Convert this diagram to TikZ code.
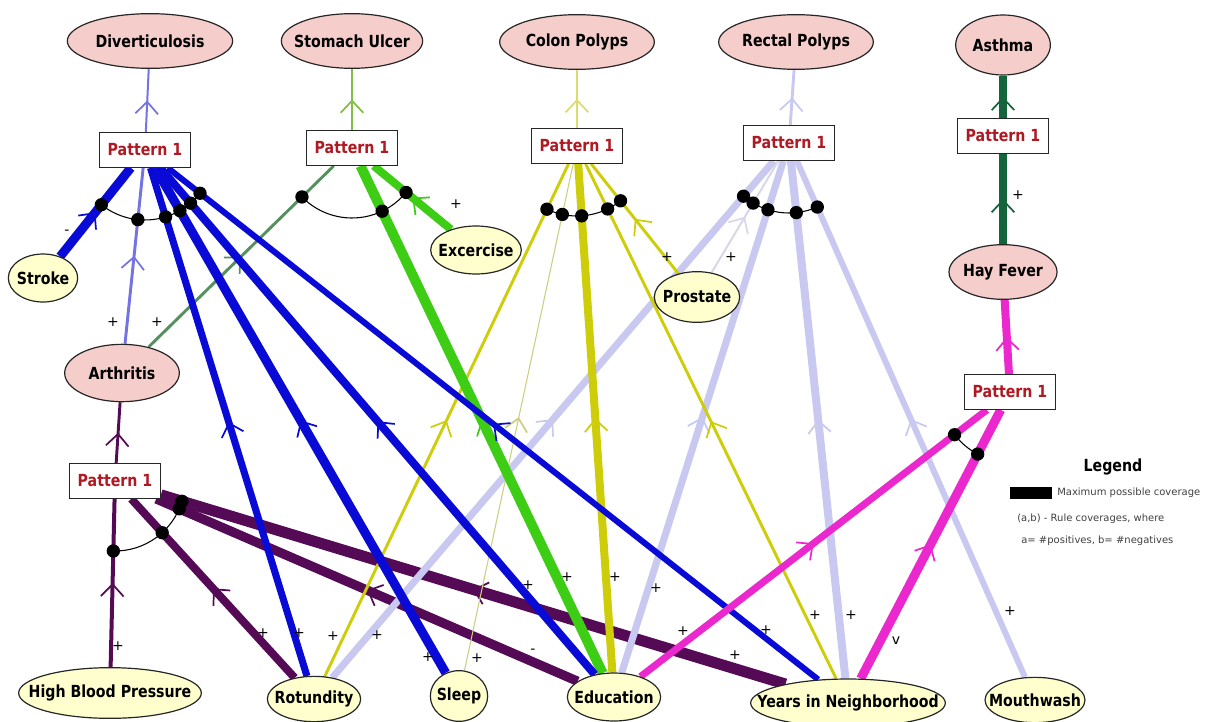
\documentclass[tikz,border=0pt]{standalone}
\usepackage{fontspec}
\setmainfont{DejaVu Sans}
\newfontfamily\nodefont[FakeStretch=0.85]{DejaVu Sans}
\usepackage{tikz}
\usetikzlibrary{shapes,arrows.meta,calc,decorations.markings}

\definecolor{divblue}{RGB}{10,10,215}
\definecolor{divlight}{RGB}{115,115,225}
\definecolor{ulcgreen}{RGB}{60,205,20}
\definecolor{ulcdull}{RGB}{85,145,95}
\definecolor{ulclight}{RGB}{130,190,70}
\definecolor{colyel}{RGB}{205,205,10}
\definecolor{colpale}{RGB}{205,205,130}
\definecolor{collight}{RGB}{220,220,110}
\definecolor{reclav}{RGB}{200,200,240}
\definecolor{recpale}{RGB}{215,215,232}
\definecolor{asthgreen}{RGB}{20,100,60}
\definecolor{hfmag}{RGB}{235,40,205}
\definecolor{arthpurp}{RGB}{85,10,85}
\definecolor{diseasefill}{RGB}{245,205,202}
\definecolor{factorfill}{RGB}{255,255,205}
\definecolor{pattred}{RGB}{175,25,35}

\pgfdeclarelayer{edges}
\pgfsetlayers{edges,main}

\tikzset{
  lbl/.style={font=\nodefont\bfseries\fontsize{12.5}{13}\selectfont},
  disease/.style={lbl, ellipse, draw=black!85, line width=0.9pt, fill=diseasefill, inner xsep=-17pt, inner ysep=0pt},
  factor/.style={lbl, ellipse, draw=black!85, line width=0.9pt, fill=factorfill, inner xsep=-17pt, inner ysep=0pt},
  pattern/.style={lbl, draw=black!85, line width=0.8pt, fill=white, text=pattred, minimum width=68pt, minimum height=26pt},
  sign/.style={inner sep=0pt, font=\fontsize{10.5}{10}\selectfont},
  legtext/.style={inner sep=0pt, text=black!75, font=\fontsize{7.5}{8}\selectfont},
  midarrow/.style={postaction={decorate, decoration={markings,
      mark=at position 0.5 with {\arrow{Straight Barb[length=9pt,width=17pt,line width=1.3pt]}}}}},
}

% arc through the edges of one pattern, from first to last source
\newcommand\bundle[3]{%
  \draw[line width=0.8pt] let \p1=($(#2)-(#1)$), \p2=($(#3)-(#1)$),
    \n1={atan2(\y1,\x1)}, \n2={atan2(\y2,\x2)} in
    ($(#1)+(\n1:52.5pt)$) arc[start angle=\n1, end angle=\n2, radius=52.5pt];
}

\begin{document}
\begin{tikzpicture}[x=0.75pt,y=-0.75pt]
  \useasboundingbox (0,0) rectangle (1212,721);

  %% diseases
  \node[disease, minimum width=124pt, minimum height=41pt] (div) at (150,41) {Diverticulosis};
  \node[disease, minimum width=106pt, minimum height=41pt] (ulcer) at (352,41) {Stomach Ulcer};
  \node[disease, minimum width=116pt, minimum height=41pt] (colon) at (577,42) {Colon Polyps};
  \node[disease, minimum width=116pt, minimum height=41pt] (rectal) at (796,42) {Rectal Polyps};
  \node[disease, minimum width=71pt, minimum height=45pt] (asthma) at (1003,45) {Asthma};
  \node[disease, minimum width=81pt, minimum height=41pt] (hayfever) at (1003,272) {Hay Fever};
  \node[disease, minimum width=86pt, minimum height=43pt] (arth) at (122,373) {Arthritis};

  %% factors
  \node[factor, minimum width=52pt, minimum height=36pt] (stroke) at (43,278) {Stroke};
  \node[factor, minimum width=68pt, minimum height=36pt] (exc) at (476,250) {Excercise};
  \node[factor, minimum width=64pt, minimum height=38pt] (pros) at (697,297) {Prostate};
  \node[factor, minimum width=137pt, minimum height=38pt] (hbp) at (110,693) {High Blood Pressure};
  \node[factor, minimum width=70pt, minimum height=34pt] (rot) at (314,699) {Rotundity};
  \node[factor, minimum width=43pt, minimum height=38pt] (slp) at (459,696) {Sleep};
  \node[factor, minimum width=70pt, minimum height=36pt] (edu) at (614,697) {Education};
  \node[factor, minimum width=146pt, minimum height=36pt] (yrs) at (848,703) {Years in Neighborhood};
  \node[factor, minimum width=75pt, minimum height=34pt] (mouth) at (1035,700) {Mouthwash};

  %% patterns
  \node[pattern] (pDiv) at (145,150) {Pattern 1};
  \node[pattern] (pUlc) at (352,148) {Pattern 1};
  \node[pattern] (pCol) at (577,146) {Pattern 1};
  \node[pattern] (pRec) at (789,143) {Pattern 1};
  \node[pattern] (pAst) at (1003,136) {Pattern 1};
  \node[pattern] (pHay) at (1010,392) {Pattern 1};
  \node[pattern] (pArt) at (115,481) {Pattern 1};

  \begin{pgfonlayer}{edges}
    % Arthritis
    \foreach \s/\w in {hbp/3pt, rot/6pt, edu/7pt, yrs/8.3pt}
      \draw[arthpurp, line width=\w, midarrow] (\s) -- (pArt);
    \draw[arthpurp, line width=2.2pt, midarrow] (pArt) -- (arth);
    % Rectal Polyps
    \foreach \s/\w in {rot/5.3pt, edu/5.3pt, yrs/6pt, mouth/4.5pt}
      \draw[reclav, line width=\w, midarrow] (\s) -- (pRec);
    \draw[recpale, line width=1.5pt, midarrow] (pros) -- (pRec);
    \draw[reclav, line width=2.2pt, midarrow] (pRec) -- (rectal);
    % Colon Polyps
    \foreach \s/\w in {rot/2.2pt, edu/6pt, yrs/2.2pt, pros/2.2pt}
      \draw[colyel, line width=\w, midarrow] (\s) -- (pCol);
    \draw[colpale, line width=0.8pt, midarrow] (slp) -- (pCol);
    \draw[collight, line width=1.5pt, midarrow] (pCol) -- (colon);
    % Stomach Ulcer
    \foreach \s/\w in {edu/7.5pt, exc/6pt}
      \draw[ulcgreen, line width=\w, midarrow] (\s) -- (pUlc);
    \draw[ulcdull, line width=2.2pt, midarrow] (arth) -- (pUlc);
    \draw[ulclight, line width=1.8pt, midarrow] (pUlc) -- (ulcer);
    % Diverticulosis
    \foreach \s/\w in {stroke/6.8pt, rot/5.3pt, slp/6.8pt, edu/6pt, yrs/4.5pt}
      \draw[divblue, line width=\w, midarrow] (\s) -- (pDiv);
    \draw[divlight, line width=2.2pt, midarrow] (arth) -- (pDiv);
    \draw[divlight, line width=1.5pt, midarrow] (pDiv) -- (div);
    % Hay Fever
    \foreach \s/\w in {edu/5.3pt, yrs/6.8pt}
      \draw[hfmag, line width=\w, midarrow] (\s) -- (pHay);
    \draw[hfmag, line width=6pt, midarrow] (pHay) -- (hayfever);
    % Asthma
    \draw[asthgreen, line width=5.3pt, midarrow] (hayfever) -- (pAst);
    \draw[asthgreen, line width=5.3pt, midarrow] (pAst) -- (asthma);
  \end{pgfonlayer}

  %% conjunction arcs and dots
  \bundle{pDiv}{stroke}{yrs}
  \foreach \s in {stroke, arth, rot, slp, edu, yrs}
    \fill ($(pDiv)!52.5pt!(\s)$) circle (5pt);
  \bundle{pUlc}{arth}{exc}
  \foreach \s in {arth, edu, exc}
    \fill ($(pUlc)!52.5pt!(\s)$) circle (5pt);
  \bundle{pCol}{rot}{pros}
  \foreach \s in {rot, slp, edu, yrs, pros}
    \fill ($(pCol)!52.5pt!(\s)$) circle (5pt);
  \bundle{pRec}{rot}{mouth}
  \foreach \s in {rot, pros, edu, yrs, mouth}
    \fill ($(pRec)!52.5pt!(\s)$) circle (5pt);
  \bundle{pHay}{edu}{yrs}
  \foreach \s in {edu, yrs}
    \fill ($(pHay)!52.5pt!(\s)$) circle (5pt);
  \bundle{pArt}{hbp}{yrs}
  \foreach \s in {hbp, rot, edu, yrs}
    \fill ($(pArt)!52.5pt!(\s)$) circle (5pt);

  %% signs on the edges
  \foreach \x/\y/\t [count=\i] in {67/232/-, 113/322/+, 299/633/+, 428/657/+, 528/585/+, 766/630/+,
      157/322/+, 567/577/+, 456/204/+,
      333/636/+, 477/658/+, 615/577/+, 815/615/+, 667/257/+,
      377/635/+, 656/588/+, 851/615/+, 1010/611/+, 731/257/+,
      1018/195/+, 683/631/+, 896/641/v,
      118/646/+, 263/633/+, 533/651/-, 735/655/+}
    \node[sign] (sg\i) at (\x,\y) {\t};

  %% legend
  \node[lbl] (legend) at (1113,467) {Legend};
  \node[fill=black, minimum width=31pt, minimum height=9pt, inner sep=0pt] (legbox) at (1031,493) {};
  \node[legtext, anchor=west] (leg1) at (1057,493) {Maximum possible coverage};
  \node[legtext, anchor=west] (leg2) at (1017,519) {(a,b) - Rule coverages, where};
  \node[legtext, anchor=west] (leg3) at (1021,541) {a= \#positives, b= \#negatives};
\end{tikzpicture}
\end{document}
